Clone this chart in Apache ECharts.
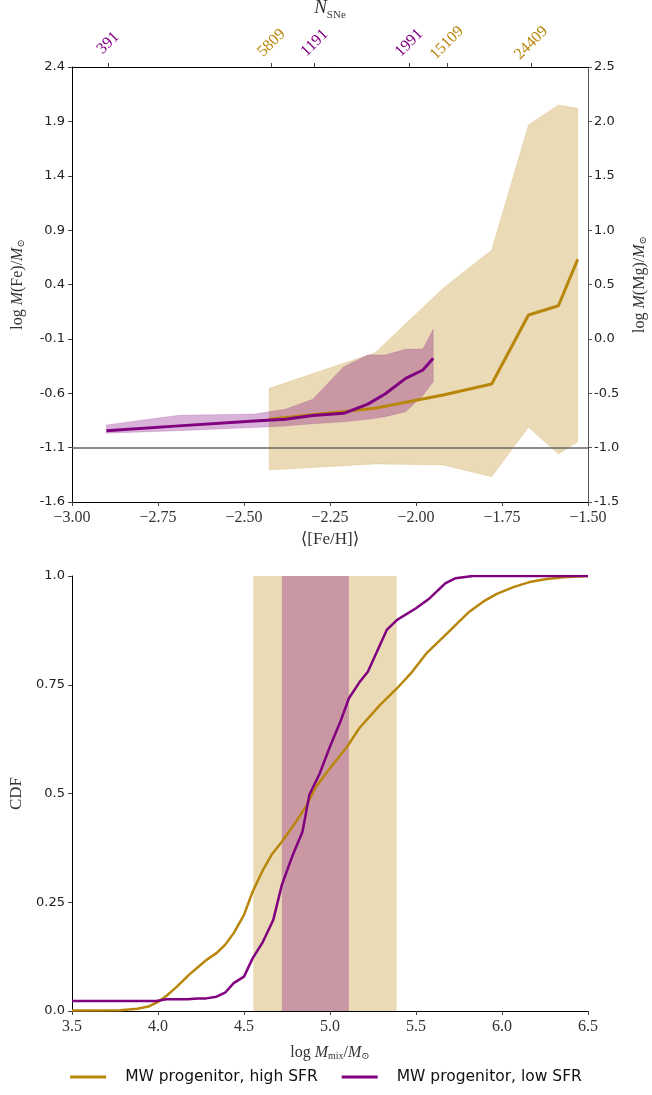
<!DOCTYPE html>
<html>
<head>
<meta charset="utf-8">
<script src="https://cdn.jsdelivr.net/npm/echarts@6/dist/echarts.min.js"></script>
<style>html,body{margin:0;padding:0;background:#fff;}#c{width:652px;height:1095px;}</style>
</head>
<body>
<div id="c"></div>
<script>
// ---------- top panel: log M(Fe) vs <[Fe/H]> ----------
const highFeH   = [-2.427, -2.119, -1.921, -1.780, -1.673, -1.586, -1.530];
const highMean  = [-0.840, -0.738, -0.616, -0.515, 0.120, 0.205, 0.631];
const highUpper = [-0.555, -0.227, 0.365, 0.717, 1.867, 2.051, 2.020];
const highLower = [-1.306, -1.250, -1.260, -1.367, -0.913, -1.159, -1.045];

const lowFeH   = [-2.90, -2.69, -2.47, -2.38, -2.30, -2.21, -2.14, -2.09, -2.03, -1.98, -1.95];
const lowMean  = [-0.944, -0.900, -0.855, -0.840, -0.805, -0.785, -0.700, -0.607, -0.463, -0.386, -0.279];
const lowUpper = [-0.892, -0.803, -0.791, -0.748, -0.656, -0.356, -0.248, -0.248, -0.196, -0.193, -0.012];
const lowLower = [-0.968, -0.944, -0.915, -0.901, -0.880, -0.862, -0.840, -0.815, -0.770, -0.620, -0.494];

const refLine = -1.1;

// N_SNe labels on top axis
const nsneX      = [-2.895, -2.42, -2.295, -2.02, -1.91, -1.665];
const nsneLabels = ['391', '5809', '1191', '1991', '15109', '24409'];
const nsneSeries = ['low', 'high', 'low', 'low', 'high', 'high'];

// ---------- bottom panel: CDF of log M_mix ----------
const highMixX = [3.50, 3.78, 3.88, 3.95, 4.00, 4.05, 4.11, 4.18, 4.23, 4.28, 4.34, 4.39, 4.44, 4.50, 4.55, 4.61, 4.66, 4.72, 4.79, 4.86, 4.92, 5.00, 5.10, 5.17, 5.29, 5.39, 5.47, 5.56, 5.66, 5.74, 5.81, 5.89, 5.97, 6.07, 6.16, 6.26, 6.36, 6.50];
const highCDF  = [0.001, 0.002, 0.005, 0.011, 0.021, 0.035, 0.056, 0.083, 0.100, 0.117, 0.133, 0.152, 0.179, 0.221, 0.274, 0.324, 0.359, 0.389, 0.428, 0.470, 0.516, 0.558, 0.608, 0.650, 0.703, 0.742, 0.776, 0.822, 0.860, 0.891, 0.918, 0.941, 0.959, 0.975, 0.986, 0.993, 0.997, 1.000];
const lowMixX  = [3.50, 3.99, 4.05, 4.17, 4.23, 4.28, 4.34, 4.39, 4.44, 4.50, 4.55, 4.61, 4.67, 4.72, 4.78, 4.84, 4.88, 4.94, 5.00, 5.06, 5.11, 5.17, 5.22, 5.33, 5.39, 5.50, 5.58, 5.67, 5.73, 5.83, 6.50];
const lowCDF   = [0.023, 0.023, 0.027, 0.027, 0.029, 0.029, 0.033, 0.042, 0.064, 0.079, 0.121, 0.159, 0.209, 0.290, 0.355, 0.412, 0.497, 0.546, 0.608, 0.665, 0.719, 0.755, 0.780, 0.876, 0.899, 0.926, 0.949, 0.983, 0.995, 1.000, 1.000];

const highBand = [4.554, 5.388];
const lowBand  = [4.72, 5.11];

const seriesNames = ['MW progenitor, high SFR', 'MW progenitor, low SFR'];

const GOLD = '#B8860B', PURPLE = '#800080';
const GOLD_A = 'rgba(184,134,11,0.3)', PURPLE_A = 'rgba(128,0,128,0.3)';
const SERIF = '"Liberation Serif","DejaVu Serif",serif';
const SANS = '"DejaVu Sans","Liberation Sans",sans-serif';

function zip(a, b) { return a.map((v, i) => [v, b[i]]); }
function bandSeries(xs, lo, hi, color, z) {
  return {
    type: 'custom', xAxisIndex: 0, yAxisIndex: 0, z: z, silent: true,
    data: xs.map((x, i) => [x, hi[i], lo[i]]),
    encode: { x: 0, y: [1, 2] },
    renderItem: function (params, api) {
      if (params.dataIndex !== 0) return null;
      const pts = [];
      for (let i = 0; i < xs.length; i++) pts.push(api.coord([xs[i], hi[i]]));
      for (let i = xs.length - 1; i >= 0; i--) pts.push(api.coord([xs[i], lo[i]]));
      return { type: 'polygon', shape: { points: pts }, style: { fill: color, stroke: color, lineWidth: 0.5 } };
    }
  };
}
const minus = s => s.replace('-', '\u2212');

const chart = echarts.init(document.getElementById('c'), null, { renderer: 'canvas' });
const axisLabelSans = { fontFamily: SANS, fontSize: 13, color: '#222' };

const option = {
  animation: false,
  backgroundColor: '#fff',
  grid: [
    { left: 72, right: 64, top: 67, height: 435, containLabel: false, outerBoundsMode: 'none' },
    { left: 72, right: 64, top: 576, height: 435, containLabel: false, outerBoundsMode: 'none' }
  ],
  legend: {
    bottom: 5, left: 'center',
    data: seriesNames,
    icon: 'rect', itemWidth: 36, itemHeight: 3, itemGap: 24,
    textStyle: { fontFamily: SANS, fontSize: 15.5, color: '#111', padding: [0, 0, 0, 14] }
  },
  xAxis: [
    {
      gridIndex: 0, type: 'value', min: -3.0, max: -1.5, interval: 0.25, position: 'bottom',
      axisLine: { show: true, onZero: false, lineStyle: { color: '#000', width: 1 } },
      axisTick: { show: true, length: 4, lineStyle: { color: '#444' } },
      axisLabel: { fontFamily: SERIF, fontSize: 16, color: '#333', margin: 8,
        formatter: v => minus(v.toFixed(2)) },
      splitLine: { show: false },
      name: '\u27E8[Fe/H]\u27E9', nameLocation: 'middle', nameGap: 29,
      nameTextStyle: { fontFamily: SERIF, fontSize: 17, color: '#333' }
    },
    {
      gridIndex: 0, type: 'value', min: -3.0, max: -1.5, position: 'top',
      axisLine: { show: true, onZero: false, lineStyle: { color: '#000', width: 1 } },
      axisTick: { show: true, length: 4, customValues: nsneX, lineStyle: { color: '#444' } },
      axisLabel: {
        customValues: nsneX, rotate: -45, margin: 24, align: 'center', verticalAlign: 'middle',
        formatter: function (v) {
          let k = 0, best = 1e9;
          nsneX.forEach((x, i) => { const d = Math.abs(x - v); if (d < best) { best = d; k = i; } });
          return '{' + nsneSeries[k] + '|' + nsneLabels[k] + '}';
        },
        rich: {
          low: { fontFamily: SERIF, fontSize: 16, color: PURPLE },
          high: { fontFamily: SERIF, fontSize: 16, color: GOLD }
        }
      },
      splitLine: { show: false },
      name: '{i|N}{s|SNe}', nameLocation: 'middle', nameGap: 46,
      nameTextStyle: {
        rich: {
          i: { fontFamily: SERIF, fontStyle: 'italic', fontSize: 19, color: '#333', verticalAlign: 'bottom' },
          s: { fontFamily: SERIF, fontSize: 11, color: '#333', verticalAlign: 'bottom', padding: [0, 0, -3, 0] }
        }
      }
    },
    {
      gridIndex: 1, type: 'value', min: 3.5, max: 6.5, interval: 0.5,
      axisLine: { show: true, onZero: false, lineStyle: { color: '#000', width: 1 } },
      axisTick: { show: true, length: 4, lineStyle: { color: '#444' } },
      axisLabel: { fontFamily: SERIF, fontSize: 16, color: '#333', margin: 8, formatter: v => v.toFixed(1) },
      splitLine: { show: false },
      name: '{n|log }{i|M}{s|mix}{n|/}{i|M}{s|\u2299}', nameLocation: 'middle', nameGap: 34,
      nameTextStyle: {
        rich: {
          n: { fontFamily: SERIF, fontSize: 16, color: '#333' },
          i: { fontFamily: SERIF, fontStyle: 'italic', fontSize: 16, color: '#333' },
          s: { fontFamily: SERIF, fontSize: 10, color: '#333', verticalAlign: 'bottom' }
        }
      }
    }
  ],
  yAxis: [
    {
      gridIndex: 0, type: 'value', min: -1.6, max: 2.4, interval: 0.5, position: 'left',
      axisLine: { show: true, onZero: false, lineStyle: { color: '#000', width: 1 } },
      axisTick: { show: true, length: 4, lineStyle: { color: '#444' } },
      axisLabel: Object.assign({ margin: 7, formatter: v => v.toFixed(1) }, axisLabelSans),
      splitLine: { show: false },
      name: '{n|log }{i|M}{n|(Fe)/}{i|M}{s|\u2299}', nameLocation: 'middle', nameGap: 46, nameRotate: 90,
      nameTextStyle: {
        rich: {
          n: { fontFamily: SERIF, fontSize: 16, color: '#333' },
          i: { fontFamily: SERIF, fontStyle: 'italic', fontSize: 16, color: '#333' },
          s: { fontFamily: SERIF, fontSize: 10, color: '#333', verticalAlign: 'bottom' }
        }
      }
    },
    {
      gridIndex: 0, type: 'value', min: -1.5, max: 2.5, interval: 0.5, position: 'right',
      axisLine: { show: true, onZero: false, lineStyle: { color: '#555', width: 1 } },
      axisTick: { show: true, length: 4, lineStyle: { color: '#555' } },
      axisLabel: Object.assign({ margin: 6, formatter: v => v.toFixed(1) }, axisLabelSans),
      splitLine: { show: false },
      name: '{n|log }{i|M}{n|(Mg)/}{i|M}{s|\u2299}', nameLocation: 'middle', nameGap: 44, nameRotate: 90,
      nameTextStyle: {
        rich: {
          n: { fontFamily: SERIF, fontSize: 16, color: '#333' },
          i: { fontFamily: SERIF, fontStyle: 'italic', fontSize: 16, color: '#333' },
          s: { fontFamily: SERIF, fontSize: 10, color: '#333', verticalAlign: 'bottom' }
        }
      }
    },
    {
      gridIndex: 1, type: 'value', min: 0, max: 1, interval: 0.25,
      axisLine: { show: true, onZero: false, lineStyle: { color: '#000', width: 1 } },
      axisTick: { show: true, length: 4, lineStyle: { color: '#444' } },
      axisLabel: Object.assign({ margin: 7, formatter: v => (v === 0 ? '0.0' : v === 1 ? '1.0' : String(v)) }, axisLabelSans),
      splitLine: { show: false },
      name: 'CDF', nameLocation: 'middle', nameGap: 42, nameRotate: 90,
      nameTextStyle: { fontFamily: SERIF, fontSize: 17, color: '#333' }
    }
  ],
  series: [
    bandSeries(highFeH, highLower, highUpper, GOLD_A, 1),
    bandSeries(lowFeH, lowLower, lowUpper, PURPLE_A, 1),
    {
      name: seriesNames[0], type: 'line', xAxisIndex: 0, yAxisIndex: 0, z: 3,
      data: zip(highFeH, highMean), showSymbol: false, symbol: 'none',
      lineStyle: { color: GOLD, width: 3 }, itemStyle: { color: GOLD },
      markLine: {
        silent: true, symbol: 'none', label: { show: false },
        lineStyle: { color: '#666', width: 1.5, type: 'solid' },
        data: [{ yAxis: refLine }]
      }
    },
    {
      name: seriesNames[1], type: 'line', xAxisIndex: 0, yAxisIndex: 0, z: 4,
      data: zip(lowFeH, lowMean), showSymbol: false, symbol: 'none',
      lineStyle: { color: PURPLE, width: 3 }, itemStyle: { color: PURPLE }
    },
    {
      name: seriesNames[0], type: 'line', xAxisIndex: 2, yAxisIndex: 2, z: 3,
      data: zip(highMixX, highCDF), showSymbol: false, symbol: 'none',
      lineStyle: { color: GOLD, width: 2.5 }, itemStyle: { color: GOLD },
      markArea: { silent: true, itemStyle: { color: GOLD_A }, data: [[{ xAxis: highBand[0] }, { xAxis: highBand[1] }]] }
    },
    {
      name: seriesNames[1], type: 'line', xAxisIndex: 2, yAxisIndex: 2, z: 4,
      data: zip(lowMixX, lowCDF), showSymbol: false, symbol: 'none',
      lineStyle: { color: PURPLE, width: 2.5 }, itemStyle: { color: PURPLE },
      markArea: { silent: true, itemStyle: { color: PURPLE_A }, data: [[{ xAxis: lowBand[0] }, { xAxis: lowBand[1] }]] }
    }
  ]
};
chart.setOption(option);
</script>
</body>
</html>
